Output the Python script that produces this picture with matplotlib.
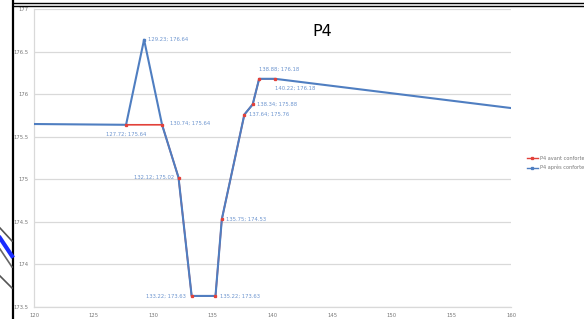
import numpy as np
import matplotlib
matplotlib.use("Agg")
import matplotlib.pyplot as plt
from matplotlib.lines import Line2D

# data
x_apres = [115, 127.72, 129.23, 130.74, 132.12, 133.22, 135.22, 135.75, 137.64, 138.34, 138.88, 140.22, 165]
y_apres = [175.655, 175.64, 176.64, 175.64, 175.02, 173.63, 173.63, 174.53, 175.76, 175.88, 176.18, 176.18, 175.75]
x_avant = [127.72, 130.74, 132.12, 133.22, 135.22, 135.75, 137.64, 138.34, 138.88, 140.22]
y_avant = [175.64, 175.64, 175.02, 173.63, 173.63, 174.53, 175.76, 175.88, 176.18, 176.18]
labelled = [127.72, 129.23, 130.74, 132.12, 133.22, 135.22, 135.75, 137.64, 138.34, 138.88, 140.22]
x_ticks = [120, 125, 130, 135, 140, 145, 150, 155, 160]
y_ticks = [173.5, 174, 174.5, 175, 175.5, 176, 176.5, 177]

blue = "#4F7EC1"
red = "#E2413A"
lbl_col = "#6D95CF"
tick_col = "#777777"

fig = plt.figure(figsize=(5.84, 3.19), dpi=100)
ax = fig.add_axes([34/584, 1-307/319, (511-34)/584, (307-9)/319])

ax.plot(x_avant, y_avant, color=red, lw=1.2, zorder=2)
ax.plot(x_apres, y_apres, color=blue, lw=1.5, zorder=3)
ax.plot(x_avant, y_avant, ls="none", marker="s", ms=1.4, color=red, zorder=4)
ax.plot([129.23], [176.64], ls="none", marker="s", ms=1.4, color=blue, zorder=4)

# where each data label sits, relative to its point
places = {
    127.72: (0, -7, "center", "center"),
    129.23: (3, 0, "left", "center"),
    130.74: (6, 1, "left", "center"),
    132.12: (-3, 0, "right", "center"),
    133.22: (-4, 0, "right", "center"),
    135.22: (3, 0, "left", "center"),
    135.75: (3, 0, "left", "center"),
    137.64: (3, 0, "left", "center"),
    138.34: (3, 0, "left", "center"),
    138.88: (0, 7, "left", "center"),
    140.22: (0, -7, "left", "center"),
}
for xv, yv in zip(x_apres, y_apres):
    if xv not in labelled:
        continue
    dx, dy, ha, va = places[xv]
    ax.annotate(f"{xv:.2f}; {yv:.2f}", (xv, yv), xytext=(dx, dy), textcoords="offset points",
                fontsize=3.8, color=lbl_col, ha=ha, va=va, zorder=5)

ax.set_xlim(120, 160)
ax.set_ylim(173.5, 177)
ax.set_xticks(x_ticks)
ax.set_yticks(y_ticks)
ax.set_xticklabels([str(t) for t in x_ticks])
ax.set_yticklabels([f"{t:g}" for t in y_ticks])
ax.tick_params(length=0, labelsize=3.8, labelcolor=tick_col)
ax.tick_params(axis="x", pad=4)
ax.tick_params(axis="y", pad=4)
ax.grid(axis="y", color="#d9d9d9", lw=0.9)
ax.set_axisbelow(True)
for s in ["top", "right"]:
    ax.spines[s].set_visible(False)
for s in ["left", "bottom"]:
    ax.spines[s].set_color("#d9d9d9")
    ax.spines[s].set_linewidth(0.9)

fig.text(322/584, 1-32/319, "P4", fontsize=11.5, ha="center", va="center",
         bbox=dict(facecolor="white", edgecolor="none", pad=7), zorder=6)

# legend runs off the right edge, as in the screenshot
handles = [Line2D([], [], color=red, lw=1.0, marker="s", ms=1.4),
           Line2D([], [], color=blue, lw=1.0, marker="s", ms=1.4)]
fig.legend(handles, ["P4 avant confortement", "P4 après confortement"], loc="center left",
           bbox_to_anchor=(522/584, 1-163/319), frameon=False, fontsize=3.6,
           labelcolor=tick_col, handlelength=2.2, handletextpad=0.4, labelspacing=0.8)

# screenshot frame around the chart
fig.add_artist(Line2D([13/584, 13/584], [0, 1], color="black", lw=1.6, transform=fig.transFigure))
fig.add_artist(Line2D([13/584, 1], [1-3/319, 1-3/319], color="black", lw=1.0, transform=fig.transFigure))
fig.add_artist(Line2D([13/584, 1], [1-5.5/319, 1-5.5/319], color="black", lw=1.0, transform=fig.transFigure))
# bits of the neighbouring picture on the left
for y0, y1, c, w in [(228, 241, "#555555", 1.2), (238, 256, "#1a2cff", 3.0),
                     (249, 267, "#666666", 1.2), (276, 288, "#555555", 1.2)]:
    fig.add_artist(Line2D([0, 12/584], [1-y0/319, 1-y1/319], color=c, lw=w, transform=fig.transFigure))

fig.savefig("out.png", dpi=100)
